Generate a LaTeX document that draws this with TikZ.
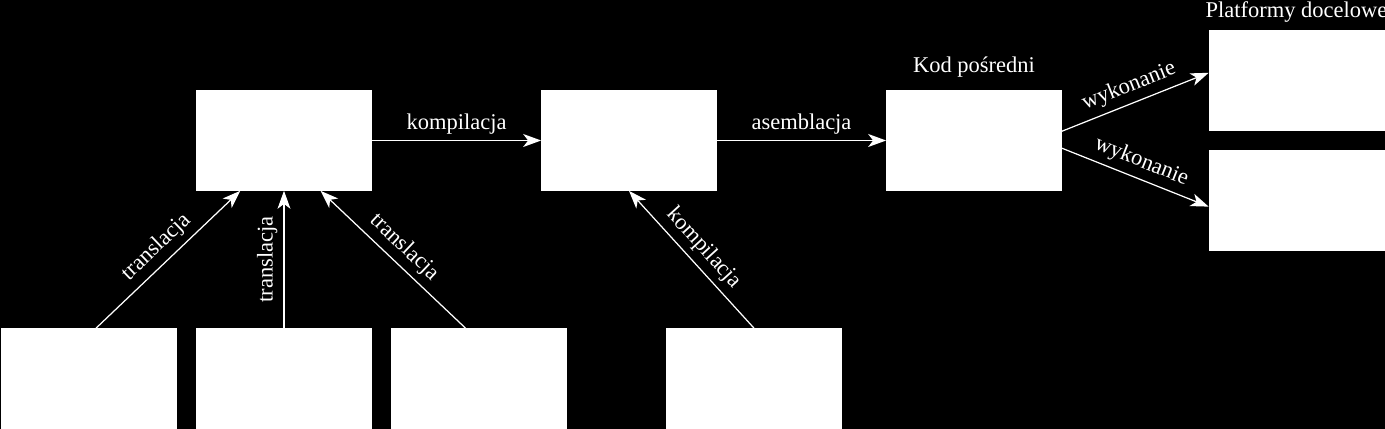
\documentclass[tikz,border=0pt]{standalone}
\usepackage{fontspec}
\setmainfont{Liberation Serif}
\usetikzlibrary{arrows.meta, positioning}

\begin{document}
\begin{tikzpicture}[node distance={69mm}, font=\fontsize{12.8}{15}\selectfont,
    main/.style = {draw=white, fill=white, minimum width=35mm, minimum height=20mm, inner sep=0pt},
    arr/.style = {-{Stealth[length=3.6mm, width=2.6mm, inset=1mm]}, white, line width=0.7pt},
    lbl/.style = {text=white, label distance=1.3mm}]
            \fill[black] (-5.68,2.81) rectangle (22.02,-5.77);
            \useasboundingbox (-5.68,2.81) rectangle (22.02,-5.77);

            \node[main] (jezyk) {};
            \node[main] (asembler) [right of=jezyk] {};
            \node[main, label={[lbl]above:Kod pośredni}] (kod) [right of=asembler] {};

            \path[arr] (jezyk) edge node[above] {kompilacja} (asembler);
            \path[arr] (asembler) edge node[above] {asemblacja} (kod);

            \node[main, label={[lbl, label distance=0.4mm]above:Platformy docelowe}] (platformaA) [node distance=64.5mm, right of=kod, yshift=12mm] {};
            \node[main] (platformaB) [node distance=64.5mm, right of=kod, yshift=-12mm] {};

            \path[arr] (kod.6) edge node[above, sloped] {wykonanie} (platformaA.175);
            \path[arr] (kod.-5) edge node[above, sloped] {wykonanie} (platformaB.184);

            \node[main] (zrodloB) [node distance=47.6mm, below of=jezyk] {};
            \node[main] (zrodloA) [node distance=39mm, left of=zrodloB] {};
            \node[main] (zrodloC) [node distance=39mm, right of=zrodloB] {};
            \node[main] (zrodloD) [node distance=47.6mm, below of=asembler, xshift=25mm] {};

            \path[arr] (zrodloA.82) edge node[above, sloped] {translacja} (jezyk.229);
            \path[arr] (zrodloB) edge node[above, sloped] {translacja} (jezyk);
            \path[arr] (zrodloC.105) edge node[above, sloped] {translacja} (jezyk.306);

            \path[arr] (zrodloD.north) edge node[above, sloped] {kompilacja} (asembler.south);
        \end{tikzpicture}
\end{document}
